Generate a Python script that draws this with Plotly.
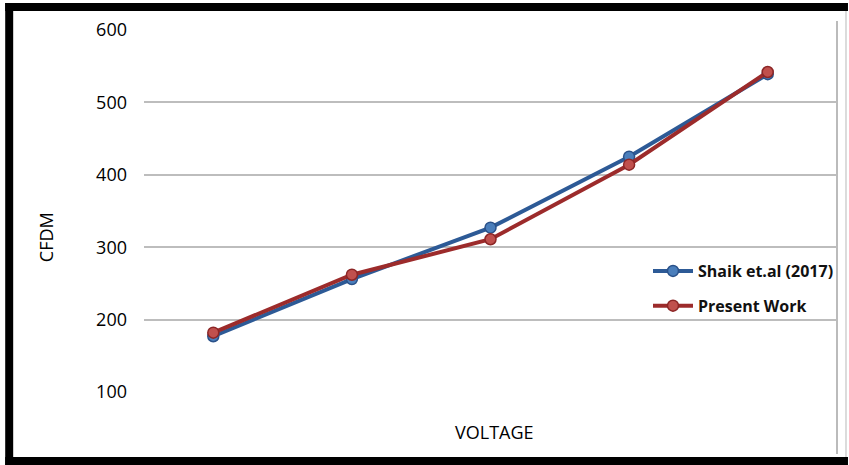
import plotly.graph_objects as go

categories = ["1", "2", "3", "4", "5"]
shaik = [177, 256, 327, 425, 539]
present = [182, 262, 311, 414, 542]
y_ticks = [100, 200, 300, 400, 500, 600]

W, H = 849, 465
L, R, T, B = 144, 838, 30, 392

def px(x):
    return (x - L) / (R - L)

def py(y):
    return (B - y) / (B - T)

fig = go.Figure()
fig.add_trace(go.Scatter(
    x=categories, y=shaik, name="<b>Shaik et.al (2017)</b>", mode="lines+markers",
    legendgroup="a",
    line=dict(color="#2D5A96", width=4),
    marker=dict(size=11, color="#4A7EBB", line=dict(color="#2A5189", width=1.5)),
))
fig.add_trace(go.Scatter(
    x=categories, y=present, name="<b>Present Work</b>", mode="lines+markers",
    legendgroup="b",
    line=dict(color="#9C2B2B", width=4),
    marker=dict(size=11, color="#C0504D", line=dict(color="#8C2626", width=1.5)),
))

shapes = []
# black frame
for (x0, y0, x1, y1) in [(5, 3, 849, 11), (5, 3, 13, 465), (5, 457, 849, 465)]:
    shapes.append(dict(type="rect", xref="paper", yref="paper",
                       x0=px(x0), x1=px(x1), y0=py(y1), y1=py(y0),
                       fillcolor="black", line=dict(width=0), layer="above"))
# right gray lines
shapes.append(dict(type="line", xref="paper", yref="paper", x0=1, x1=1,
                   y0=py(454), y1=py(21), line=dict(color="#BBBBBB", width=2)))
shapes.append(dict(type="line", xref="paper", yref="paper", x0=px(847), x1=px(847),
                   y0=py(457), y1=py(11), line=dict(color="#D0D0D0", width=1.5)))

fig.update_layout(
    width=W, height=H,
    margin=dict(l=L, r=W - R, t=T, b=H - B, pad=0),
    paper_bgcolor="white", plot_bgcolor="white",
    font=dict(family="Open Sans, Liberation Sans, sans-serif", size=17, color="#000000"),
    showlegend=True,
    legend=dict(x=px(648), y=py(254), xanchor="left", yanchor="top",
                bgcolor="rgba(0,0,0,0)", font=dict(size=16, color="#111111", family="Open Sans"),
                tracegroupgap=11, itemwidth=40),
    xaxis=dict(showticklabels=False, showgrid=False, zeroline=False, showline=False,
               ticks="", range=[-0.5, 4.5]),
    yaxis=dict(range=[100, 600], tickvals=y_ticks, showgrid=True, gridcolor="#BDBDBD",
               gridwidth=1.5, zeroline=False, showline=False, ticks="",
               ticklabelstandoff=16, tickfont=dict(size=18)),
    shapes=shapes,
    annotations=[
        dict(text="CFDM", xref="paper", yref="paper", x=px(46), y=py(237),
             showarrow=False, textangle=-90, font=dict(size=18), xanchor="center", yanchor="middle"),
        dict(text="VOLTAGE", xref="paper", yref="paper", x=px(495), y=py(432),
             showarrow=False, font=dict(size=18), xanchor="center", yanchor="middle"),
    ],
)
fig.write_html(
    "out.html",
    config={"displayModeBar": False},
    post_script=("document.body.style.margin='0';document.body.style.padding='0';"
                 "document.body.style.overflow='hidden';"
                 "document.documentElement.style.overflow='hidden';"),
)
